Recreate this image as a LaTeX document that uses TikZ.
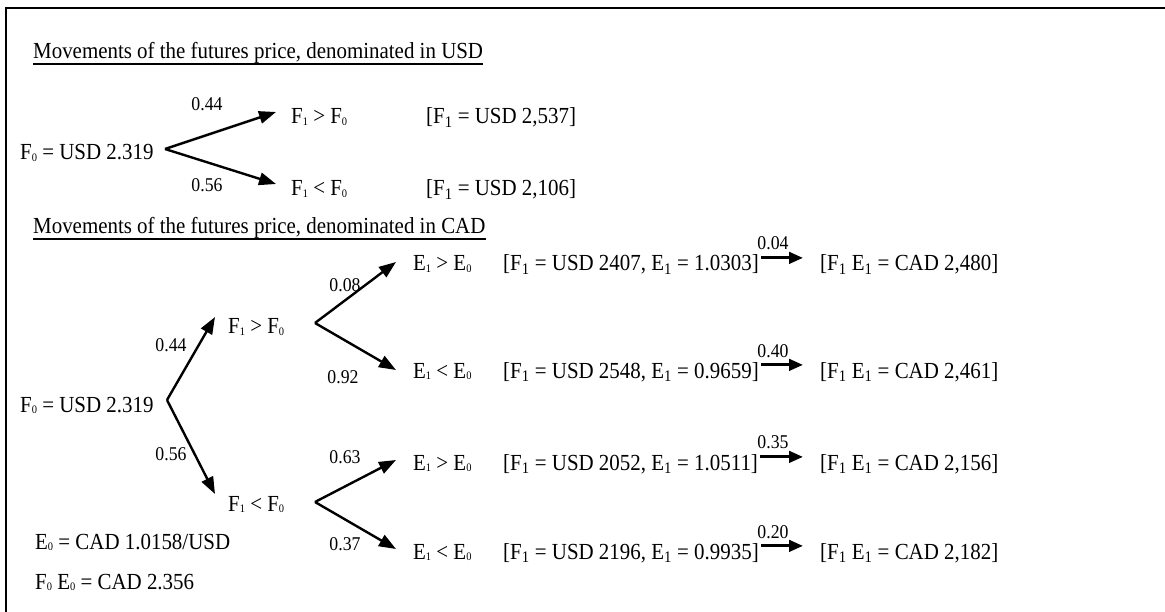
\documentclass[tikz,border=0pt]{standalone}
\usepackage{fontspec}
\setmainfont[FakeStretch=0.91]{Liberation Serif}
\usetikzlibrary{arrows.meta}
\newcommand{\lo}[1]{\raisebox{-0.15ex}{\fontsize{11.5}{12}\selectfont #1}}
\begin{document}
\begin{tikzpicture}[x=1pt,y=-1pt,
  txt/.style={font=\fontsize{23}{27}\selectfont, inner sep=0pt, anchor=base west},
  prob/.style={font=\fontsize{19.5}{22}\selectfont, inner sep=0pt, anchor=base},
  arr/.style={line width=2.4pt, -{Triangle[length=17pt,width=12.5pt]}},
  sarr/.style={line width=3pt, -{Triangle[length=14pt,width=11.5pt]}, shorten <=2pt, shorten >=17pt},
  uline/.style={line width=1.5pt}]
\useasboundingbox (0,0) rectangle (1165,612);
\draw[line width=2pt] (6,612) -- (6,8) -- (1165,8);

% ---- USD tree
\node[txt] (t1) at (33,59) {Movements of the futures price, denominated in USD};
\draw[uline] ([yshift=-5pt]t1.base west) -- ([yshift=-5pt]t1.base east);
\node[txt] (f0a) at (20,160) {F\lo{0} = USD 2.319};
\coordinate (va) at (165,149);
\coordinate (ua) at (276,112);
\coordinate (da) at (276,184);
\draw[arr] (va) -- (ua);
\draw[arr] (va) -- (da);
\node[prob] (pa1) at (207,111) {0.44};
\node[prob] (pa2) at (207,192) {0.56};
\node[txt] (ga1) at (291,124) {F\lo{1} > F\lo{0}};
\node[txt] (ga2) at (291,196) {F\lo{1} < F\lo{0}};
\node[txt] (ba1) at (426,124) {[F\textsubscript{1} = USD 2,537]};
\node[txt] (ba2) at (426,196) {[F\textsubscript{1} = USD 2,106]};

% ---- CAD tree
\node[txt] (t2) at (33,234) {Movements of the futures price, denominated in CAD};
\draw[uline] ([yshift=-5pt]t2.base west) -- ([yshift=-5pt]t2.base east);
\node[txt] (f0b) at (20,412) {F\lo{0} = USD 2.319};
\coordinate (vb) at (167,400);
\coordinate (ub) at (215,317);
\coordinate (db) at (215,494);
\draw[arr] (vb) -- (ub);
\draw[arr] (vb) -- (db);
\node[prob] (pb1) at (171,352) {0.44};
\node[prob] (pb2) at (171,460) {0.56};
\node[txt] (gb1) at (228,334) {F\lo{1} > F\lo{0}};
\node[txt] (gb2) at (228,511) {F\lo{1} < F\lo{0}};

\coordinate (vc) at (315,323);
\coordinate (uc) at (396,262);
\coordinate (dc) at (396,370);
\coordinate (vd) at (315,502);
\coordinate (ud) at (396,460);
\coordinate (dd) at (396,549);
\draw[arr] (vc) -- (uc);
\draw[arr] (vc) -- (dc);
\draw[arr] (vd) -- (ud);
\draw[arr] (vd) -- (dd);
\node[prob] (pc1) at (345,292) {0.08};
\node[prob] (pc2) at (343,383) {0.92};
\node[prob] (pd1) at (345,463) {0.63};
\node[prob] (pd2) at (345,550) {0.37};

\node[txt] (e1) at (413,271) {E\lo{1} > E\lo{0}};
\node[txt] (e2) at (413,378) {E\lo{1} < E\lo{0}};
\node[txt] (e3) at (413,470) {E\lo{1} > E\lo{0}};
\node[txt] (e4) at (413,559) {E\lo{1} < E\lo{0}};

\node[txt] (b1) at (503,271) {[F\textsubscript{1} = USD 2407, E\textsubscript{1} = 1.0303]};
\node[txt] (b2) at (503,378) {[F\textsubscript{1} = USD 2548, E\textsubscript{1} = 0.9659]};
\node[txt] (b3) at (503,470) {[F\textsubscript{1} = USD 2052, E\textsubscript{1} = 1.0511]};
\node[txt] (b4) at (503,559) {[F\textsubscript{1} = USD 2196, E\textsubscript{1} = 0.9935]};

\node[txt] (r1) at (820,271) {[F\textsubscript{1} E\textsubscript{1} = CAD 2,480]};
\node[txt] (r2) at (820,378) {[F\textsubscript{1} E\textsubscript{1} = CAD 2,461]};
\node[txt] (r3) at (820,470) {[F\textsubscript{1} E\textsubscript{1} = CAD 2,156]};
\node[txt] (r4) at (820,559) {[F\textsubscript{1} E\textsubscript{1} = CAD 2,182]};

\draw[sarr] ([yshift=7pt]b1.east) -- ([yshift=7pt]r1.west);
\draw[sarr] ([yshift=7pt]b2.east) -- ([yshift=7pt]r2.west);
\draw[sarr] ([yshift=7pt]b3.east) -- ([yshift=7pt]r3.west);
\draw[sarr] ([yshift=7pt]b4.east) -- ([yshift=7pt]r4.west);

\node[prob] (q1) at (773,250) {0.04};
\node[prob] (q2) at (773,357) {0.40};
\node[prob] (q3) at (773,448) {0.35};
\node[prob] (q4) at (773,538) {0.20};

\node[txt] (e0) at (35,549) {E\lo{0} = CAD 1.0158/USD};
\node[txt] (fe0) at (35,589) {F\lo{0} E\lo{0} = CAD 2.356};
\end{tikzpicture}
\end{document}
